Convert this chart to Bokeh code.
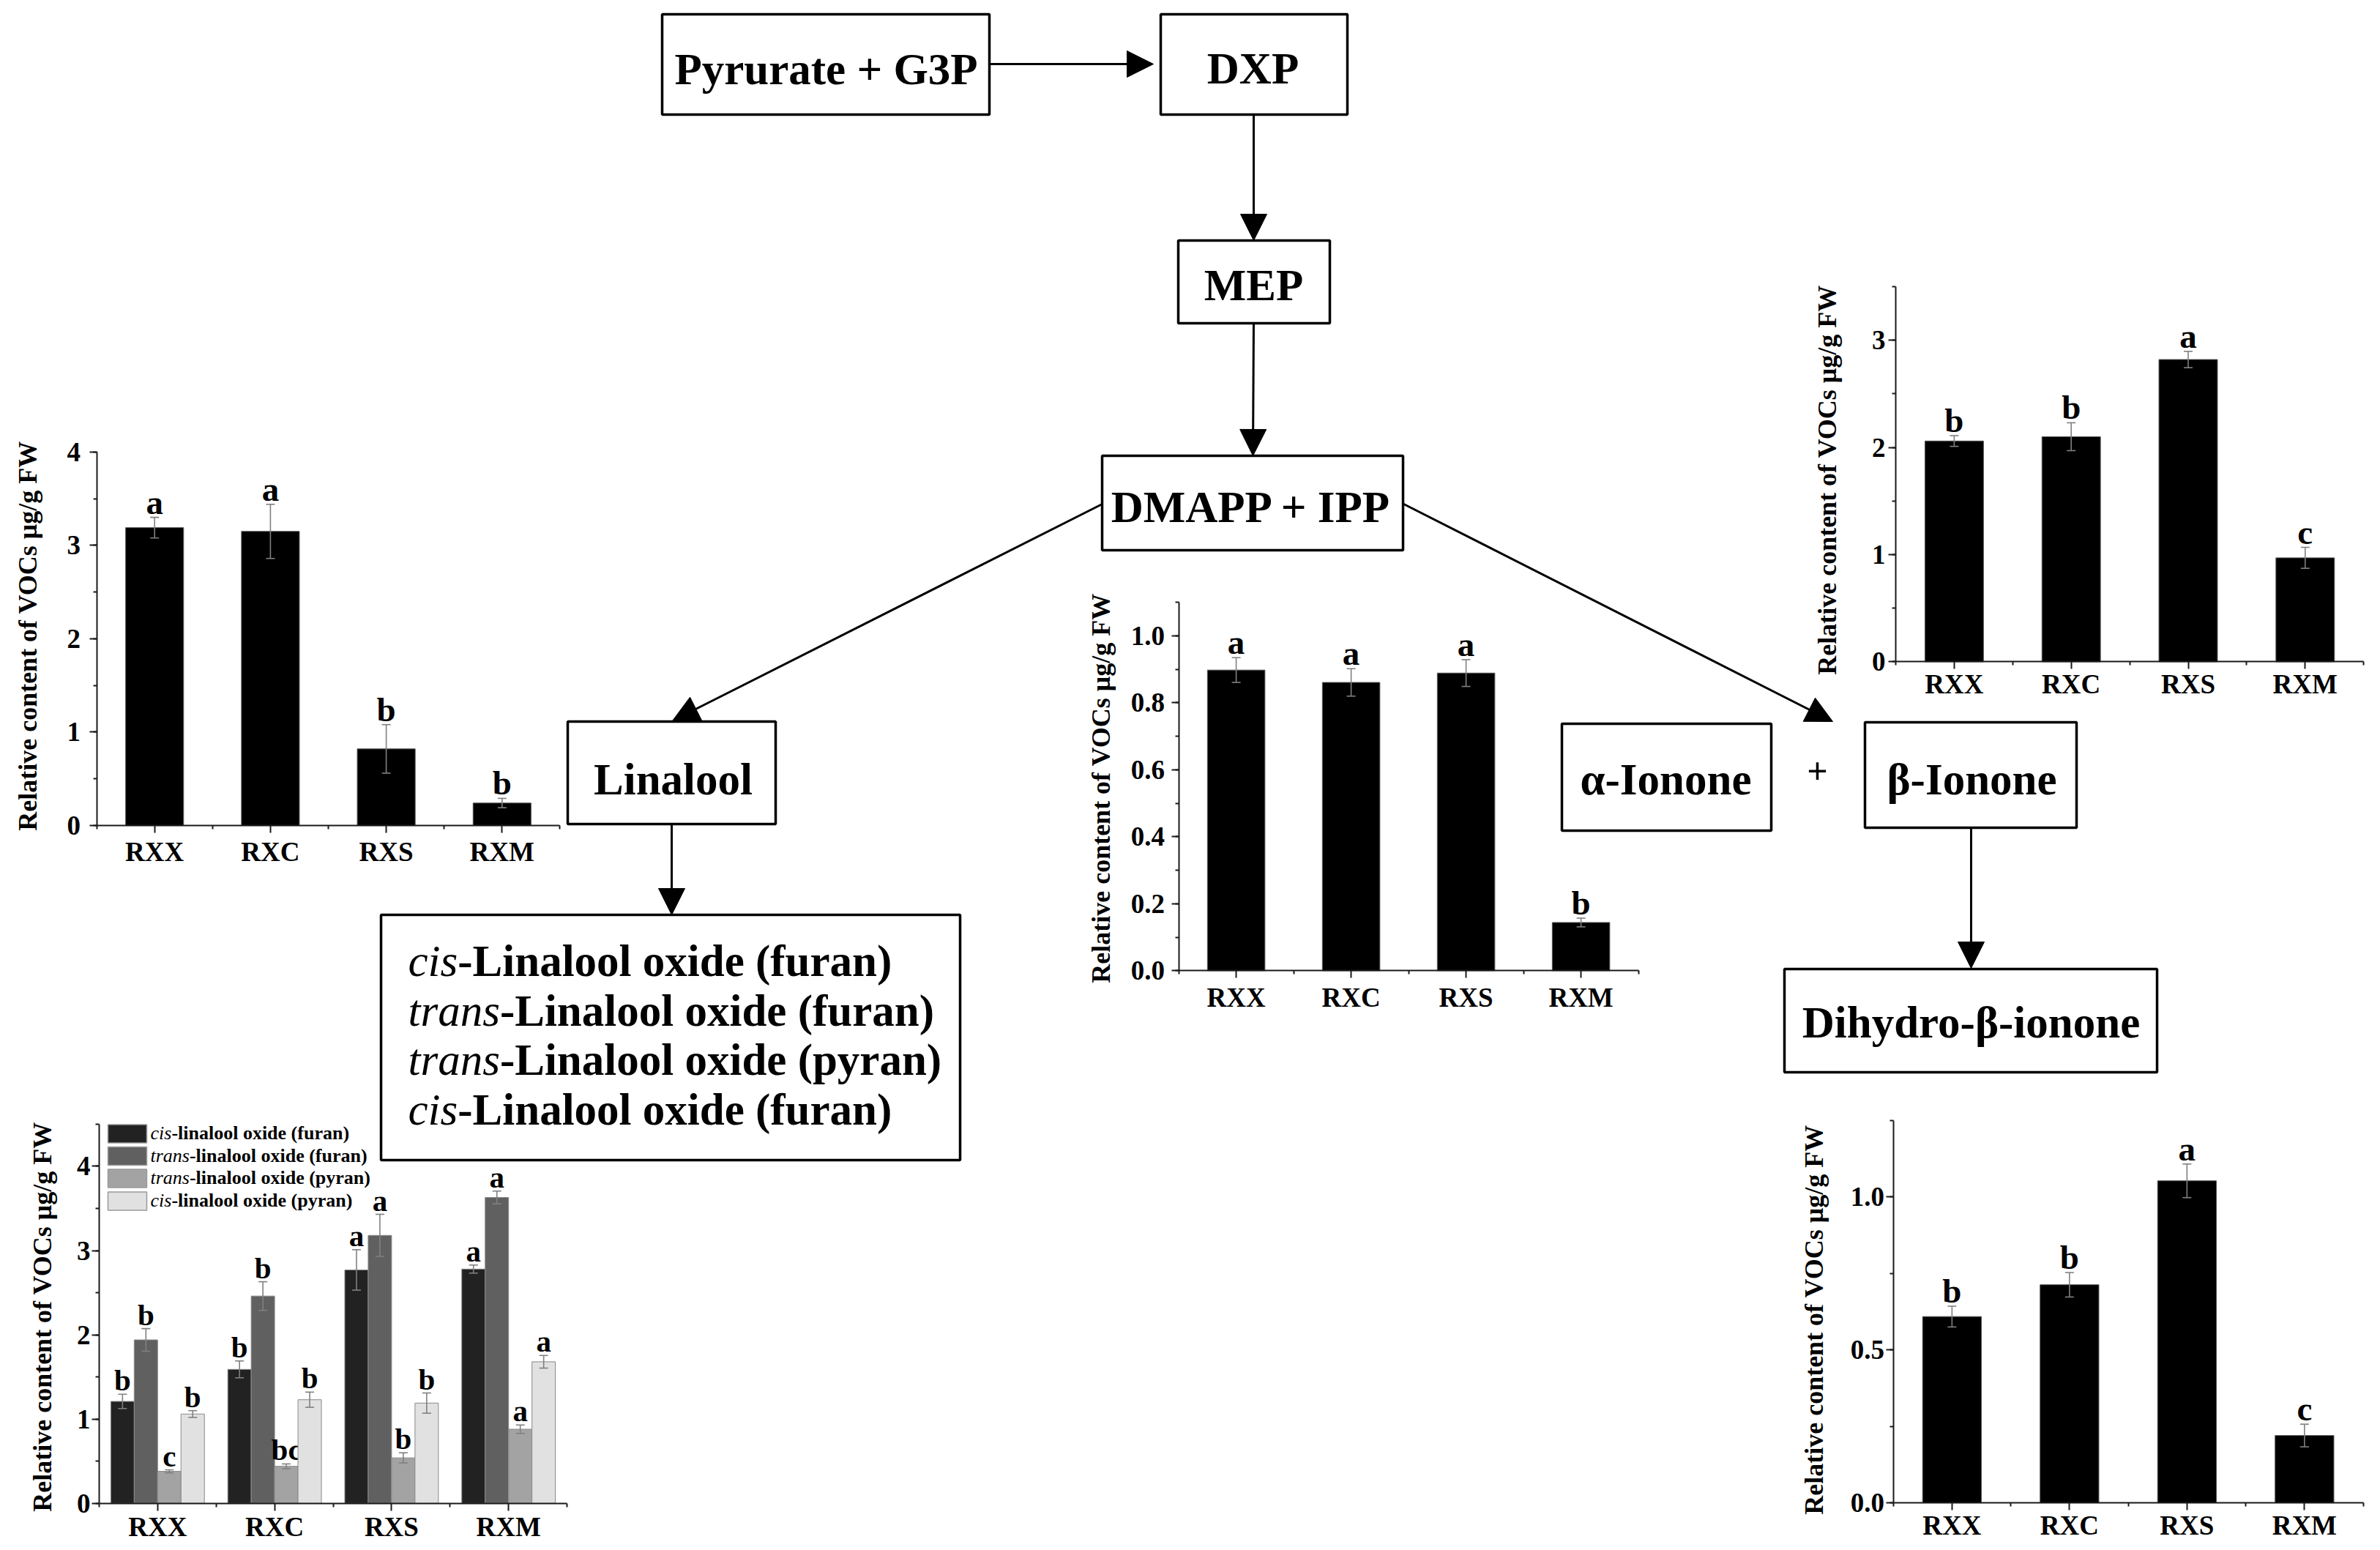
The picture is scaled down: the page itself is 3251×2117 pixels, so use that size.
import numpy as np
from bokeh.plotting import figure
from bokeh.models import (Range1d, LinearAxis, FixedTicker, SingleIntervalTicker,
                          NumeralTickFormatter, Arrow, NormalHead, ColumnDataSource)
from bokeh.core.properties import value
from bokeh.embed import file_html
from bokeh.resources import INLINE

FONT = "Liberation Serif"

# ---------------- data ----------------
categories = ["RXX", "RXC", "RXS", "RXM"]

# Linalool (upper-left chart)
linalool_mean = [3.19, 3.15, 0.82, 0.24]
linalool_err = [0.11, 0.29, 0.26, 0.05]
linalool_sig = ["a", "a", "b", "b"]

# alpha-Ionone (centre chart)
alpha_mean = [0.898, 0.861, 0.889, 0.144]
alpha_err = [0.037, 0.041, 0.040, 0.013]
alpha_sig = ["a", "a", "a", "b"]

# beta-Ionone (upper-right chart)
beta_mean = [2.06, 2.10, 2.82, 0.97]
beta_err = [0.05, 0.13, 0.076, 0.098]
beta_sig = ["b", "b", "a", "c"]

# Dihydro-beta-ionone (lower-right chart)
dihydro_mean = [0.609, 0.713, 1.053, 0.220]
dihydro_err = [0.034, 0.040, 0.055, 0.037]
dihydro_sig = ["b", "b", "a", "c"]

# Linalool oxides (lower-left grouped chart)
oxide_prefix = ["cis", "trans", "trans", "cis"]
oxide_rest = ["-linalool oxide (furan)", "-linalool oxide (furan)",
              "-linalool oxide (pyran)", "-linalool oxide (pyran)"]
oxide_colors = ["#222222", "#606060", "#a3a3a3", "#e1e1e1"]
cis_furan_mean = [1.21, 1.59, 2.77, 2.78]
cis_furan_err = [0.085, 0.10, 0.24, 0.048]
cis_furan_sig = ["b", "b", "a", "a"]
trans_furan_mean = [1.94, 2.46, 3.18, 3.63]
trans_furan_err = [0.134, 0.17, 0.25, 0.076]
trans_furan_sig = ["b", "b", "a", "a"]
trans_pyran_mean = [0.38, 0.44, 0.54, 0.88]
trans_pyran_err = [0.018, 0.028, 0.06, 0.05]
trans_pyran_sig = ["c", "bc", "b", "a"]
cis_pyran_mean = [1.06, 1.23, 1.19, 1.68]
cis_pyran_err = [0.04, 0.09, 0.12, 0.075]
cis_pyran_sig = ["b", "b", "b", "a"]

y_label = "Relative content of VOCs \u03bcg/g FW"

# ---------------- page / figure ----------------
W, H = 3243, 2109
OX, OY = 0, 0
p = figure(width=W, height=H, x_range=Range1d(OX, OX + W), y_range=Range1d(OY + H, OY),
           x_axis_type=None, y_axis_type=None, toolbar_location=None,
           output_backend="svg", min_border=0, title=None)
p.outline_line_color = None
p.background_fill_color = "white"
p.border_fill_color = "white"

BASE_SHIFT = 0.34  # empirical correction of the alphabetic baseline (in em)

# ---------------- pathway diagram (layout in page pixels) ----------------
boxes = [  # left, right, top, bottom
    (904, 1351, 19, 156),     # Pyrurate + G3P
    (1585, 1840, 19, 156),    # DXP
    (1609, 1816, 328, 441),   # MEP
    (1505, 1916, 622, 751),   # DMAPP + IPP
    (775, 1059, 985, 1125),   # Linalool
    (520, 1311, 1249, 1584),  # oxides
    (2133, 2419, 988, 1134),  # alpha-Ionone
    (2547, 2836, 986, 1130),  # beta-Ionone
    (2437, 2946, 1323, 1464), # Dihydro
]
p.quad(left=[b[0] for b in boxes], right=[b[1] for b in boxes],
       top=[b[2] for b in boxes], bottom=[b[3] for b in boxes],
       fill_color="white", line_color="black", line_width=3.5)

BOX_FS = 61
box_labels = ["Pyrurate + G3P", "DXP", "MEP", "DMAPP + IPP", "Linalool",
              "\u03b1-Ionone", "\u03b2-Ionone", "Dihydro-\u03b2-ionone"]
label_x = [1128, 1711, 1712, 1709, 919, 2275, 2693, 2692]
label_y = [115, 114, 410, 713, 1085, 1085, 1085, 1417]
p.text(x=label_x, y=label_y, text=box_labels, text_font=value(FONT),
       text_font_style="bold", text_font_size=f"{BOX_FS}px", text_align="center",
       text_baseline="alphabetic", text_color="black", y_offset=-BASE_SHIFT * BOX_FS)
p.text(x=[2482], y=[1070], text=["+"], text_font=value(FONT), text_font_style="bold",
       text_font_size="50px", text_align="center", text_baseline="alphabetic",
       y_offset=-BASE_SHIFT * 50)

ITALIC_W = {"c": .444, "i": .278, "s": .389, "t": .278, "r": .389, "a": .5, "n": .5}


def italic_width(word, size):
    return sum(ITALIC_W[ch] for ch in word) * size


box_prefix = ["cis", "trans", "trans", "cis"]
box_rest = ["-Linalool oxide (furan)", "-Linalool oxide (furan)",
            "-Linalool oxide (pyran)", "-Linalool oxide (furan)"]
line_base = [1333, 1401, 1468, 1536]
p.text(x=[557] * 4, y=line_base, text=box_prefix, text_font=value(FONT),
       text_font_style="italic", text_font_size=f"{BOX_FS}px", text_baseline="alphabetic",
       y_offset=-BASE_SHIFT * BOX_FS)
p.text(x=[557 + italic_width(w, BOX_FS) for w in box_prefix], y=line_base, text=box_rest,
       text_font=value(FONT), text_font_style="bold", text_font_size=f"{BOX_FS}px",
       text_baseline="alphabetic", y_offset=-BASE_SHIFT * BOX_FS)

arrows = [  # x0, y0, x1, y1
    (1351, 87, 1575, 87),
    (1712, 156, 1712, 328),
    (1712, 441, 1711, 622),
    (1505, 688, 918, 984),
    (1917, 688, 2503, 985),
    (917, 1125, 917, 1249),
    (2692, 1130, 2692, 1322),
]
for x0, y0, x1, y1 in arrows:
    p.add_layout(Arrow(x_start=x0, y_start=y0, x_end=x1, y_end=y1, line_width=3,
                       line_color="black",
                       end=NormalHead(size=36, fill_color="black", line_color="black",
                                      line_width=1)))

# ---------------- bar charts ----------------
CHARTS = {
    "lin": dict(xa=131.6, cw=158.2, y0=1126.9, u=127.5, ytop=4, step=1, fmt="0",
                ysd=12, xsd=6, label=(37, 868)),
    "alpha": dict(xa=1609.6, cw=157.0, y0=1325.3, u=457.3, ytop=1.1, step=0.2, fmt="0.0",
                  ysd=9, xsd=6, label=(1503, 1076)),
    "beta": dict(xa=2589, cw=159.8, y0=903.4, u=146.4, ytop=3.5, step=1, fmt="0",
                 ysd=4, xsd=0, label=(2495, 655)),
    "oxide": dict(xa=134.9, cw=159.8, y0=2052.8, u=115.1, ytop=4.5, step=1, fmt="0",
                  ysd=2, xsd=2, label=(57, 1798)),
    "dihydro": dict(xa=2585.6, cw=160.5, y0=2052, u=417.6, ytop=1.25, step=0.5, fmt="0.0",
                    ysd=2, xsd=0, label=(2477, 1802)),
}

pos = [i + 1 for i in range(len(categories))]


def setup_chart(key):
    g = CHARTS[key]
    xn, yn = key + "_x", key + "_y"
    p.extra_x_ranges[xn] = Range1d(0.5 + (OX - g["xa"]) / g["cw"],
                                   0.5 + (OX + W - g["xa"]) / g["cw"])
    p.extra_y_ranges[yn] = Range1d((g["y0"] - (OY + H)) / g["u"], (g["y0"] - OY) / g["u"])
    common = dict(axis_line_width=2, axis_line_color="#1a1a1a",
                  major_tick_line_width=2, minor_tick_line_width=2,
                  major_tick_line_color="#1a1a1a", minor_tick_line_color="#1a1a1a",
                  major_tick_in=0, major_tick_out=10, minor_tick_in=0, minor_tick_out=5,
                  major_label_text_font=FONT, major_label_text_font_style="bold",
                  major_label_text_font_size="37px", major_label_text_color="black")
    xax = LinearAxis(x_range_name=xn, y_range_name=yn, fixed_location=0,
                     bounds=(0.5, len(categories) + 0.5),
                     ticker=FixedTicker(ticks=pos, minor_ticks=[q + 0.5 for q in range(len(categories) + 1)]),
                     major_label_overrides={k: c for k, c in zip(pos, categories)},
                     major_label_standoff=g["xsd"], **common)
    p.add_layout(xax, "below")
    yax = LinearAxis(x_range_name=xn, y_range_name=yn, fixed_location=0.5,
                     bounds=(0, g["ytop"] + 1e-6),
                     ticker=SingleIntervalTicker(interval=g["step"], num_minor_ticks=2),
                     formatter=NumeralTickFormatter(format=g["fmt"]),
                     major_label_standoff=g["ysd"], **common)
    p.add_layout(yax, "left")
    lx, ly = g["label"]
    p.text(x=[lx], y=[ly], text=[y_label], angle=np.pi / 2, text_font=value(FONT),
           text_font_style="bold", text_font_size="36px", text_align="center",
           text_baseline="middle", text_color="black")
    return xn, yn, g["cw"]


def add_series(xn, yn, cw, xs, mean, err, sig, width, color, line_color, sig_fs):
    p.vbar(x=xs, top=mean, bottom=0, width=width, fill_color=color, line_color=line_color,
           line_width=1, x_range_name=xn, y_range_name=yn)
    cap = 6.0 / cw
    src = ColumnDataSource(dict(x=xs, upper=[m + e for m, e in zip(mean, err)],
                                lower=[m - e for m, e in zip(mean, err)],
                                cl=[x - cap for x in xs], cr=[x + cap for x in xs], sig=sig))
    ebar = dict(source=src, x_range_name=xn, y_range_name=yn, line_color="#808080",
                line_width=1.6)
    p.segment(x0="x", y0="lower", x1="x", y1="upper", **ebar)
    p.segment(x0="cl", y0="upper", x1="cr", y1="upper", **ebar)
    p.segment(x0="cl", y0="lower", x1="cr", y1="lower", **ebar)
    p.text(x="x", y="upper", text="sig", source=src, x_range_name=xn, y_range_name=yn,
           text_font=value(FONT), text_font_style="bold", text_font_size=f"{sig_fs}px",
           text_align="center", text_baseline="alphabetic",
           y_offset=-5 - BASE_SHIFT * sig_fs, text_color="black")


for key, mean, err, sig in [("lin", linalool_mean, linalool_err, linalool_sig),
                            ("alpha", alpha_mean, alpha_err, alpha_sig),
                            ("beta", beta_mean, beta_err, beta_sig),
                            ("dihydro", dihydro_mean, dihydro_err, dihydro_sig)]:
    xn, yn, cw = setup_chart(key)
    add_series(xn, yn, cw, pos, mean, err, sig, 0.5, "black", "#555555", 47)

xn, yn, cw = setup_chart("oxide")
oxide_means = [cis_furan_mean, trans_furan_mean, trans_pyran_mean, cis_pyran_mean]
oxide_errs = [cis_furan_err, trans_furan_err, trans_pyran_err, cis_pyran_err]
oxide_sigs = [cis_furan_sig, trans_furan_sig, trans_pyran_sig, cis_pyran_sig]
offsets = [-0.3, -0.1, 0.1, 0.3]
for j in range(4):
    add_series(xn, yn, cw, [q + offsets[j] for q in pos], oxide_means[j], oxide_errs[j],
               oxide_sigs[j], 0.2, oxide_colors[j], "#8a8a8a", 41)

# legend of the grouped chart (drawn in page pixels)
LEG_FS = 26
leg_y = [1548, 1578.5, 1609, 1640]
p.rect(x=[173.5] * 4, y=leg_y, width=53, height=25, fill_color=oxide_colors,
       line_color="#9a9a9a", line_width=1.5)
p.text(x=[205] * 4, y=[v + 8 for v in leg_y], text=oxide_prefix, text_font=value(FONT),
       text_font_style="italic", text_font_size=f"{LEG_FS}px", text_baseline="alphabetic",
       y_offset=-BASE_SHIFT * LEG_FS)
p.text(x=[205 + italic_width(w, LEG_FS) for w in oxide_prefix], y=[v + 8 for v in leg_y],
       text=oxide_rest, text_font=value(FONT), text_font_style="bold",
       text_font_size=f"{LEG_FS}px", text_baseline="alphabetic",
       y_offset=-BASE_SHIFT * LEG_FS)

open("out.html", "w").write(file_html(p, INLINE))
